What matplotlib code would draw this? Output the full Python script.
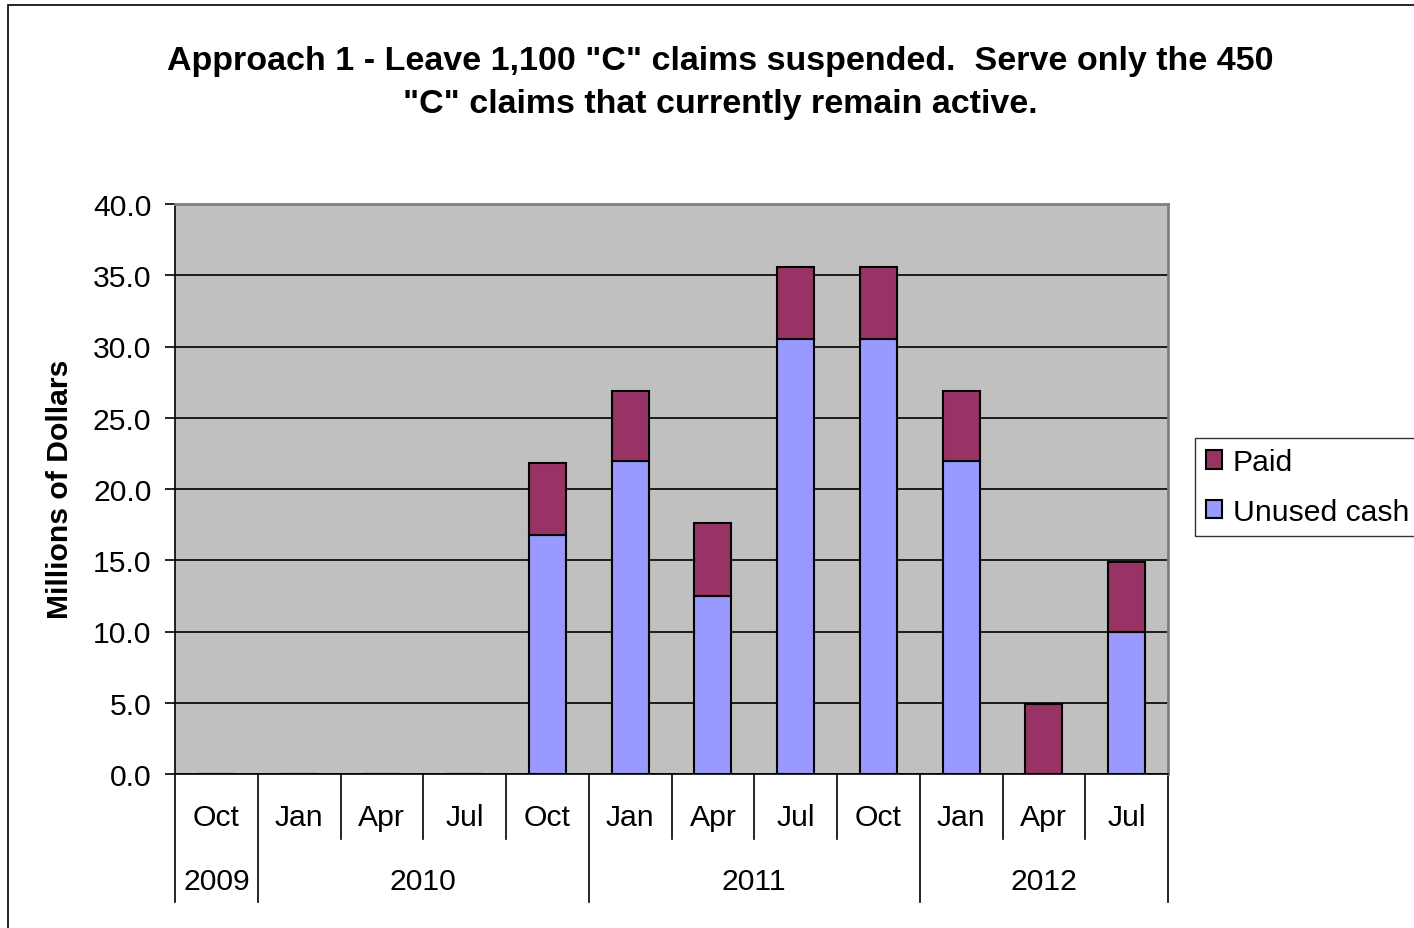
import numpy as np
import matplotlib
matplotlib.use("Agg")
import matplotlib.pyplot as plt
from matplotlib.patches import Rectangle

plt.rcParams['font.family'] = ['Liberation Sans', 'DejaVu Sans']

months = ['Oct', 'Jan', 'Apr', 'Jul', 'Oct', 'Jan', 'Apr', 'Jul', 'Oct', 'Jan', 'Apr', 'Jul']
years = ['2009', '2010', '2011', '2012']
year_counts = [1, 4, 4, 3]
unused = [0, 0, 0, 0, 16.8, 22.0, 12.5, 30.5, 30.5, 22.0, 0, 10.0]
paid = [0, 0, 0, 0, 5.0, 4.9, 5.1, 5.1, 5.1, 4.9, 4.9, 4.9]

W, H = 1414, 929
fs = 21.7
fig = plt.figure(figsize=(W / 100, H / 100), dpi=100)

# outer chart border
fig.patches.append(Rectangle((8 / W, -0.01), 1.02, 1 - 6 / H + 0.01, transform=fig.transFigure,
                             fill=False, edgecolor='black', linewidth=1.2))

left, right, top, bottom = 175, 1168, 205, 775
ax = fig.add_axes([left / W, 1 - bottom / H, (right - left) / W, (bottom - top) / H])
ax.set_facecolor('#C0C0C0')

x = np.arange(len(months))
ax.bar(x, unused, width=0.45, color='#9999FF', edgecolor='black', linewidth=1.5,
       label='Unused cash', zorder=3)
ax.bar(x, paid, width=0.45, bottom=unused, color='#993366', edgecolor='black', linewidth=1.5,
       label='Paid', zorder=3)

ax.set_xlim(-0.5, len(months) - 0.5)
ax.set_ylim(0, 40)
ax.set_yticks(np.arange(0, 40.1, 5))
ax.set_yticklabels([f'{v:.1f}' for v in np.arange(0, 40.1, 5)], fontsize=fs)
ax.yaxis.grid(True, color='black', linewidth=1.2, zorder=1)
ax.tick_params(axis='y', length=7, width=1.2, pad=10)
ax.set_xticks([])

for s in ['top', 'right']:
    ax.spines[s].set_color('#808080')
    ax.spines[s].set_linewidth(2)
for s in ['left', 'bottom']:
    ax.spines[s].set_color('black')
    ax.spines[s].set_linewidth(1.2)

fig.text(60 / W, 1 - 489 / H, 'Millions of Dollars', rotation=90, ha='center', va='center',
         fontsize=fs, fontweight='bold')

# multi-level category axis
ph = bottom - top
tr = ax.get_xaxis_transform()
y_month = -(818 - bottom) / ph
y_msep = -(840 - bottom) / ph
y_year = -(882 - bottom) / ph
y_ysep = -(903 - bottom) / ph

for i, m in enumerate(months):
    ax.text(i, y_month, m, transform=tr, ha='center', va='center', fontsize=fs)

edges = np.cumsum([0] + year_counts) - 0.5
year_edges = set(edges.tolist())
for b in np.arange(-0.5, len(months), 1.0):
    yend = y_ysep if b in year_edges else y_msep
    ax.plot([b, b], [0, yend], transform=tr, color='black', linewidth=1.2, clip_on=False)

for j, yr in enumerate(years):
    ax.text((edges[j] + edges[j + 1]) / 2, y_year, yr, transform=tr, ha='center', va='center',
            fontsize=fs)

fig.text(0.5 * (163 + 1278) / W, 1 - 83 / H,
         'Approach 1 - Leave 1,100 "C" claims suspended.  Serve only the 450\n'
         '"C" claims that currently remain active.',
         ha='center', va='center', fontsize=24.5, fontweight='bold', linespacing=1.5)

handles, labels = ax.get_legend_handles_labels()
leg = fig.legend(handles[::-1], labels[::-1], loc='center left',
                 bbox_to_anchor=(1195 / W, 1 - 488 / H), fontsize=fs, frameon=True,
                 fancybox=False, edgecolor='black', handlelength=0.55, handleheight=0.55,
                 handletextpad=0.35, borderpad=0.35, labelspacing=0.72, borderaxespad=0)
leg.get_frame().set_linewidth(1.0)

fig.savefig('out.png', dpi=100)
